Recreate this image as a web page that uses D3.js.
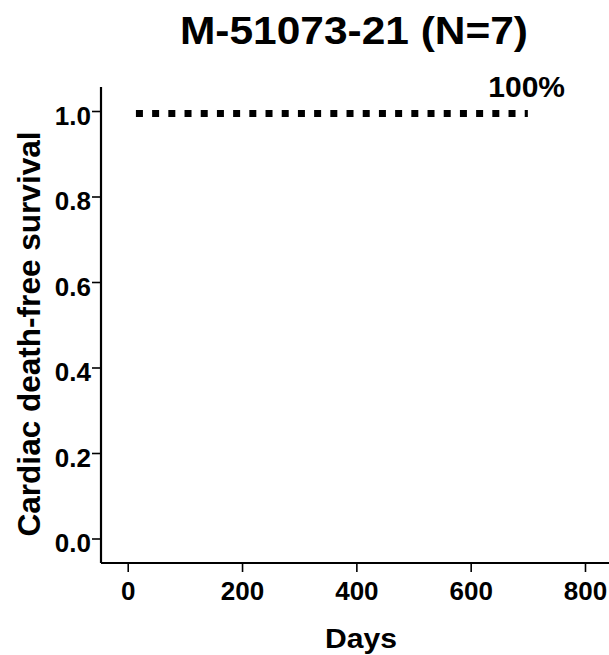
<!DOCTYPE html>
<html>
<head>
<meta charset="utf-8">
<script src="https://cdn.jsdelivr.net/npm/d3@7"></script>
<style>
  body { margin: 0; background: #fff; }
  text { font-family: "Liberation Sans", Arial, sans-serif; font-weight: bold; fill: #000; }
</style>
</head>
<body>
<svg id="chart" width="609" height="655"></svg>
<script>
const width = 609; //px
const height = 655; //px

// survival curve (Kaplan-Meier step, no events)
const days = [0, 700];
const survival = [1.0, 1.0];
const xTicks = [0, 200, 400, 600, 800];
const yTicks = [0.0, 0.2, 0.4, 0.6, 0.8, 1.0];
const titleText = "M-51073-21 (N=7)";
const endLabel = "100%";

const svg = d3.select("#chart");

const x = d3.scaleLinear().domain([-45, 842]).range([102, 609]);
const y = d3.scaleLinear().domain([0, 1]).range([538.5, 111]);
const yTop = 87, yBottom = 563;

// y axis
const gy = svg.append("g")
  .attr("transform", "translate(101,0)")
  .call(d3.axisLeft(y).tickValues(yTicks).tickFormat(d3.format(".1f")).tickSize(9).tickSizeOuter(0).tickPadding(1));
gy.select(".domain").attr("d", `M0,${yTop}V${yBottom}`).attr("stroke-width", 2.2);
gy.selectAll(".tick line").attr("stroke-width", 1.6);
gy.selectAll(".tick text").style("font-size", "26px").attr("dy", "0.5em");

// x axis
const gx = svg.append("g")
  .attr("transform", `translate(0,${yBottom})`)
  .call(d3.axisBottom(x).tickValues(xTicks).tickSize(9).tickSizeOuter(0).tickPadding(10));
gx.select(".domain").attr("d", "M101,0H609").attr("stroke-width", 2.2);
gx.selectAll(".tick line").attr("stroke-width", 1.6);
gx.selectAll(".tick text").style("font-size", "26px").attr("dy", "0.69em");

// survival line, dotted like the reference
const line = d3.line()
  .x((d, i) => x(days[i]))
  .y(d => y(d))
  .curve(d3.curveStepAfter);

svg.append("path")
  .datum(survival)
  .attr("d", line)
  .attr("transform", "translate(0,2.5)")
  .attr("fill", "none")
  .attr("stroke", "#000")
  .attr("stroke-width", 7)
  .attr("stroke-dasharray", "7 9.2")
  .attr("stroke-dashoffset", 8);

// end label
svg.append("text")
  .attr("x", 565)
  .attr("y", 96.5)
  .attr("text-anchor", "end")
  .style("font-size", "30px")
  .text(endLabel);

// title
svg.append("text")
  .attr("x", 354)
  .attr("y", 43.5)
  .attr("text-anchor", "middle")
  .style("font-size", "39px")
  .attr("textLength", 348)
  .attr("lengthAdjust", "spacingAndGlyphs")
  .text(titleText);

// axis titles
svg.append("text")
  .attr("x", 361)
  .attr("y", 648)
  .attr("text-anchor", "middle")
  .style("font-size", "28px")
  .attr("textLength", 72)
  .attr("lengthAdjust", "spacingAndGlyphs")
  .text("Days");

svg.append("text")
  .attr("transform", "translate(40,334) rotate(-90)")
  .attr("text-anchor", "middle")
  .style("font-size", "32px")
  .attr("textLength", 405)
  .attr("lengthAdjust", "spacingAndGlyphs")
  .text("Cardiac death-free survival");
</script>
</body>
</html>
